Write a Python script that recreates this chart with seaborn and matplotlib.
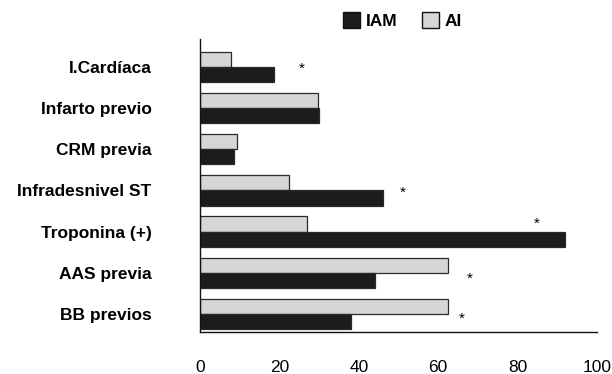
import pandas as pd
import seaborn as sns
import matplotlib.pyplot as plt
from matplotlib.patches import Patch

# data
categorias = ["I.Cardíaca", "Infarto previo", "CRM previa", "Infradesnivel ST",
              "Troponina (+)", "AAS previa", "BB previos"]
iam = [18.7, 30.0, 8.5, 46.0, 92.0, 44.0, 38.0]
ai = [7.8, 29.8, 9.3, 22.5, 27.0, 62.4, 62.5]

# significance marks (*): x value and offset from the category centre
marca_x = [25.6, None, None, 51.0, 85.0, 68.0, 66.0]
marca_dy = [0.05, 0, 0, 0.05, -0.2, 0.15, 0.12]

COLOR_IAM = "#1c1c1c"
COLOR_AI = "#d6d6d6"


def main():
    sns.set_style("white")
    plt.rcParams["font.family"] = ["Liberation Sans", "DejaVu Sans"]
    plt.rcParams["text.color"] = "black"
    plt.rcParams["xtick.color"] = "black"
    plt.rcParams["ytick.color"] = "black"

    df = pd.DataFrame({
        "categoria": categorias * 2,
        "grupo": ["IAM"] * len(categorias) + ["AI"] * len(categorias),
        "valor": iam + ai,
    })

    fig = plt.figure(figsize=(6.12, 3.74), dpi=100)
    ax = fig.add_axes([0.327, 0.112, 0.648, 0.783])

    sns.barplot(data=df, y="categoria", x="valor", hue="grupo",
                order=categorias, hue_order=["AI", "IAM"],
                palette={"AI": COLOR_AI, "IAM": COLOR_IAM},
                orient="h", width=0.74, saturation=1, gap=0,
                edgecolor="#2a2a2a", linewidth=0.9, legend=False, ax=ax)

    for i, (mx, dy) in enumerate(zip(marca_x, marca_dy)):
        if mx is not None:
            ax.text(mx, i + dy, "*", ha="center", va="center", fontsize=11)

    ax.set_xlim(0, 100)
    ax.set_ylim(6.44, -0.67)
    ax.set_xticks(range(0, 101, 20))
    ax.set_xlabel("")
    ax.set_ylabel("")
    ax.tick_params(axis="x", length=0, pad=20, labelsize=12.5)
    ax.tick_params(axis="y", length=0, pad=35, labelsize=12.5)
    for lab in ax.get_yticklabels():
        lab.set_fontweight("bold")

    sns.despine(ax=ax)
    for s in ("left", "bottom"):
        ax.spines[s].set_color("#111111")
        ax.spines[s].set_linewidth(1.0)

    handles = [Patch(facecolor=COLOR_IAM, edgecolor="#111111", label="IAM"),
               Patch(facecolor=COLOR_AI, edgecolor="#111111", label="AI")]
    fig.legend(handles=handles, loc="center left", bbox_to_anchor=(0.535, 0.945),
               ncol=2, frameon=False, handlelength=1.0, handleheight=1.0,
               handletextpad=0.3, columnspacing=1.4,
               prop={"weight": "bold", "size": 12.5})

    fig.savefig("out.png", dpi=100)


if __name__ == "__main__":
    main()
